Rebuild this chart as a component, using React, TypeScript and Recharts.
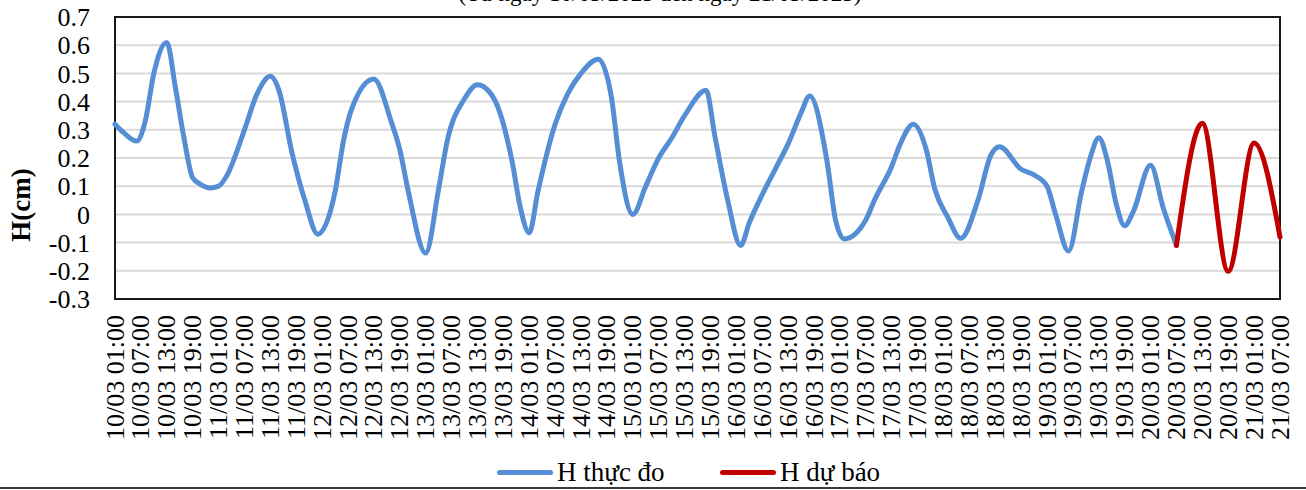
import React from 'react';
import { LineChart, Line, XAxis, YAxis, CartesianGrid, ReferenceArea, Label } from 'recharts';

const FONT = "'Liberation Serif', 'Times New Roman', serif";
const BLUE = '#558ED5';
const RED = '#C00000';

// one label every 6 hours, starting 10/03 01:00
const tickLabels = [
  '10/03 01:00', '10/03 07:00', '10/03 13:00', '10/03 19:00',
  '11/03 01:00', '11/03 07:00', '11/03 13:00', '11/03 19:00',
  '12/03 01:00', '12/03 07:00', '12/03 13:00', '12/03 19:00',
  '13/03 01:00', '13/03 07:00', '13/03 13:00', '13/03 19:00',
  '14/03 01:00', '14/03 07:00', '14/03 13:00', '14/03 19:00',
  '15/03 01:00', '15/03 07:00', '15/03 13:00', '15/03 19:00',
  '16/03 01:00', '16/03 07:00', '16/03 13:00', '16/03 19:00',
  '17/03 01:00', '17/03 07:00', '17/03 13:00', '17/03 19:00',
  '18/03 01:00', '18/03 07:00', '18/03 13:00', '18/03 19:00',
  '19/03 01:00', '19/03 07:00', '19/03 13:00', '19/03 19:00',
  '20/03 01:00', '20/03 07:00', '20/03 13:00', '20/03 19:00',
  '21/03 01:00', '21/03 07:00',
];
const tickHours = tickLabels.map((_, i) => i * 6);

const yTicks = [-0.3, -0.2, -0.1, 0, 0.1, 0.2, 0.3, 0.4, 0.5, 0.6, 0.7];

// hours counted from 10/03 01:00
const measuredHours = [
  0, 2, 5, 7, 9, 12, 14, 16, 18, 20, 22, 24, 26, 30, 33, 36, 38, 41, 44, 47,
  51, 53, 55, 60, 64, 66, 68, 72, 75, 77, 81, 84, 87, 89, 92, 94, 96, 98, 102, 105,
  108, 112, 115, 117, 120, 123, 126, 129, 132, 137, 139, 142, 145, 147, 150, 153, 156, 159, 161, 165,
  167, 169, 174, 176, 180, 182, 185, 188, 190, 193, 196, 200, 203, 205, 210, 213, 216, 218, 221, 224,
  226, 228, 230, 232, 234, 236, 240, 243, 246,
];
const measuredValues = [
  0.32, 0.29, 0.26, 0.33, 0.5, 0.61, 0.45, 0.27, 0.13, 0.105, 0.094, 0.1, 0.14, 0.3, 0.43, 0.49, 0.44, 0.22, 0.05, -0.07,
  0.08, 0.265, 0.38, 0.48, 0.33, 0.23, 0.08, -0.137, 0.09, 0.26, 0.41, 0.46, 0.43, 0.37, 0.19, 0.02, -0.066, 0.08, 0.32, 0.43,
  0.5, 0.55, 0.42, 0.18, 0.0, 0.1, 0.2, 0.27, 0.35, 0.44, 0.28, 0.05, -0.11, -0.03, 0.07, 0.16, 0.25, 0.36, 0.42, 0.19,
  -0.02, -0.087, -0.02, 0.05, 0.17, 0.25, 0.32, 0.23, 0.09, -0.01, -0.085, 0.05, 0.21, 0.24, 0.16, 0.14, 0.1, 0.0, -0.13, 0.08,
  0.2, 0.272, 0.19, 0.04, -0.04, 0.01, 0.174, 0.02, -0.11,
];

const forecastHours = [246, 252, 258, 264, 270];
const forecastValues = [-0.11, 0.323, -0.202, 0.253, -0.08];

const measured = measuredHours.map((h, i) => ({ h, v: measuredValues[i] }));
const forecast = forecastHours.map((h, i) => ({ h, v: forecastValues[i] }));

const XTick = (props: any) => {
  const { x, y, payload } = props;
  return (
    <text
      transform={`translate(${x},${y + 16}) rotate(-90)`}
      textAnchor="end"
      dominantBaseline="central"
      fontFamily={FONT}
      fontSize={26}
      fill="#000"
    >
      {tickLabels[Math.round(payload.value / 6)]}
    </text>
  );
};

const LegendItem = ({ left, color, text }: { left: number; color: string; text: string }) => (
  <div style={{ position: 'absolute', left, top: 457, height: 30, display: 'flex', alignItems: 'center' }}>
    <span style={{ display: 'inline-block', width: 56, height: 5, background: color, borderRadius: 3 }} />
    <span style={{ marginLeft: 4, fontFamily: FONT, fontSize: 27, color: '#000', lineHeight: '30px' }}>{text}</span>
  </div>
);

export default function App() {
  return (
    <div style={{ position: 'relative', width: 1306, height: 490, background: '#fff', overflow: 'hidden' }}>
      <style>{'body{margin:0}'}</style>
      <svg width={1306} height={20} style={{ position: 'absolute', left: 0, top: 0 }}>
        <text x={660} y={1} textAnchor="middle" fontFamily={FONT} fontSize={23} fill="#000">
          (Từ ngày 10/03/2025 đến ngày 21/03/2025)
        </text>
      </svg>
      <LineChart width={1306} height={490} margin={{ top: 17, right: 26, bottom: 0, left: 0 }}>
        <CartesianGrid horizontal vertical={false} stroke="#d9d9d9" strokeWidth={2} />
        <XAxis
          dataKey="h"
          type="number"
          domain={[0, 270]}
          ticks={tickHours}
          interval={0}
          height={191}
          tickSize={0}
          tickMargin={0}
          axisLine={false}
          tickLine={false}
          tick={<XTick />}
        />
        <YAxis
          type="number"
          domain={[-0.3, 0.7]}
          ticks={yTicks}
          interval={0}
          width={115}
          tickSize={0}
          tickMargin={25}
          axisLine={false}
          tickLine={false}
          tick={{ fontFamily: FONT, fontSize: 26, fill: '#000' }}
          tickFormatter={(v: number) => (Math.abs(v) < 1e-9 ? '0' : v.toFixed(1))}
        >
          <Label
            content={() => (
              <text
                x={21}
                y={205}
                transform="rotate(-90 21 205)"
                textAnchor="middle"
                dominantBaseline="central"
                fontFamily={FONT}
                fontWeight="bold"
                fontSize={27}
                fill="#000"
              >
                H(cm)
              </text>
            )}
          />
        </YAxis>
        <ReferenceArea x1={0} x2={270} y1={-0.3} y2={0.7} fill="none" stroke="#1a1a1a" strokeWidth={2} />
        <Line
          data={measured}
          dataKey="v"
          type="monotone"
          stroke={BLUE}
          strokeWidth={5}
          strokeLinecap="round"
          dot={false}
          activeDot={false}
          isAnimationActive={false}
        />
        <Line
          data={forecast}
          dataKey="v"
          type="monotone"
          stroke={RED}
          strokeWidth={5}
          strokeLinecap="round"
          dot={false}
          activeDot={false}
          isAnimationActive={false}
        />
      </LineChart>
      <LegendItem left={497} color={BLUE} text="H thực đo" />
      <LegendItem left={720} color={RED} text="H dự báo" />
      <div style={{ position: 'absolute', left: 0, top: 487, width: 1306, height: 2, background: '#3a3a3a' }} />
    </div>
  );
}
